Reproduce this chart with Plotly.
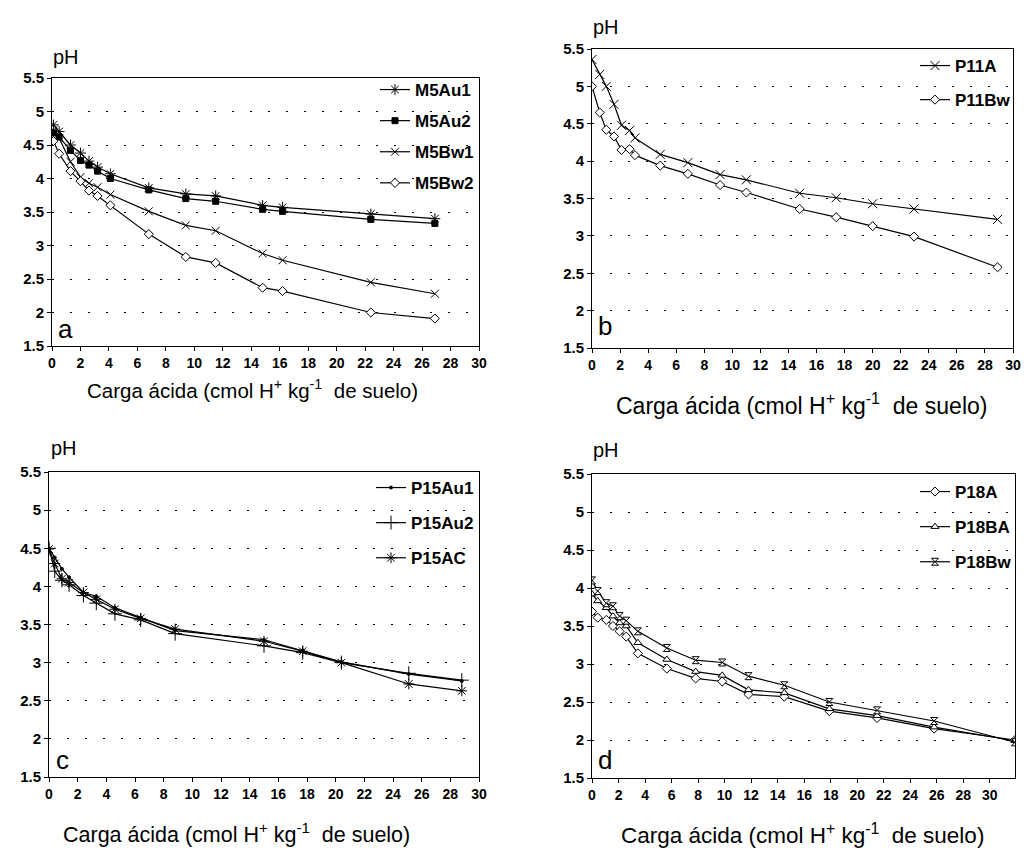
import plotly.graph_objects as go

# ---------------- data ----------------
# Panel a
xa = [0.1, 0.5, 1.3, 2.0, 2.6, 3.2, 4.1, 6.8, 9.4, 11.5, 14.8, 16.2, 22.4, 26.9]
M5Au1 = [4.80, 4.70, 4.50, 4.38, 4.26, 4.17, 4.07, 3.86, 3.77, 3.74, 3.60, 3.57, 3.47, 3.40]
M5Au2 = [4.68, 4.62, 4.42, 4.27, 4.20, 4.11, 4.00, 3.83, 3.70, 3.66, 3.54, 3.51, 3.39, 3.33]
M5Bw1 = [4.72, 4.60, 4.25, 4.02, 3.93, 3.87, 3.76, 3.51, 3.30, 3.22, 2.88, 2.78, 2.45, 2.28]
M5Bw2 = [4.56, 4.37, 4.11, 3.96, 3.82, 3.74, 3.60, 3.17, 2.83, 2.74, 2.37, 2.32, 2.00, 1.91]

# Panel b
xb = [0, 0.55, 1.02, 1.57, 2.1, 2.68, 3.06, 4.86, 6.83, 9.13, 11.0, 14.8, 17.4, 20.0, 22.95, 28.9]
P11A = [5.36, 5.16, 5.00, 4.76, 4.48, 4.41, 4.31, 4.09, 3.98, 3.82, 3.75, 3.57, 3.51, 3.43, 3.36, 3.22]
P11Bw = [5.00, 4.65, 4.42, 4.33, 4.15, 4.16, 4.08, 3.94, 3.83, 3.68, 3.58, 3.36, 3.25, 3.13, 2.99, 2.58]

# Panel c
xc = [0, 0.4, 0.9, 1.4, 2.4, 3.3, 4.6, 6.4, 8.8, 15.0, 17.7, 20.4, 25.1, 28.8]
P15Au1 = [4.50, 4.38, 4.23, 4.12, 3.92, 3.87, 3.72, 3.59, 3.42, 3.30, 3.16, 3.01, 2.85, 2.76]
P15Au2 = [4.50, 4.20, 4.08, 4.02, 3.88, 3.78, 3.64, 3.56, 3.38, 3.22, 3.13, 3.00, 2.86, 2.77]
P15AC = [4.49, 4.30, 4.10, 4.05, 3.92, 3.83, 3.70, 3.58, 3.44, 3.28, 3.15, 3.00, 2.72, 2.63]

# Panel d
xd = [0, 0.43, 1.08, 1.58, 2.08, 2.58, 3.46, 5.64, 7.82, 9.82, 11.8, 14.5, 17.9, 21.5, 25.8, 31.9]
P18A = [3.69, 3.61, 3.58, 3.50, 3.43, 3.36, 3.14, 2.94, 2.81, 2.77, 2.60, 2.57, 2.38, 2.29, 2.15, 2.00]
P18BA = [3.92, 3.83, 3.74, 3.63, 3.54, 3.50, 3.28, 3.06, 2.90, 2.85, 2.66, 2.62, 2.41, 2.32, 2.17, 1.99]
P18Bw = [4.10, 3.96, 3.80, 3.76, 3.63, 3.57, 3.43, 3.21, 3.05, 3.02, 2.84, 2.72, 2.50, 2.39, 2.25, 1.97]

y_ticks = [1.5, 2, 2.5, 3, 3.5, 4, 4.5, 5, 5.5]
x_ticks = list(range(0, 31, 2))
panel_letters = ["a", "b", "c", "d"]
x_title = "Carga ácida (cmol H<sup>+</sup> kg<sup>-1</sup>  de suelo)"

# ---------------- figure ----------------
W, H = 1025, 851
FONT = "Liberation Sans, Arial, sans-serif"

def px(x):
    return x / W

def py(y):
    return 1 - y / H

fig = go.Figure()

def add(x, y, name, ax, leg, symbol, size, fill="white"):
    fig.add_trace(go.Scatter(
        x=x, y=y, name=name, mode="lines+markers",
        xaxis="x" + ("" if ax == 1 else str(ax)),
        yaxis="y" + ("" if ax == 1 else str(ax)),
        legend="legend" + ("" if leg == 1 else str(leg)),
        legendgroup=name,
        line=dict(color="black", width=1.2),
        marker=dict(symbol=symbol, size=size, color=fill,
                    line=dict(color="black", width=1)),
    ))

add(xa, M5Au1, "M5Au1", 1, 1, "asterisk-open", 9, fill="black")
add(xa, M5Au2, "M5Au2", 1, 1, "square", 6, fill="black")
add(xa, M5Bw1, "M5Bw1", 1, 1, "x-thin-open", 8, fill="black")
add(xa, M5Bw2, "M5Bw2", 1, 1, "diamond", 7)

add(xb, P11A, "P11A", 2, 2, "x-thin-open", 9, fill="black")
add(xb, P11Bw, "P11Bw", 2, 2, "diamond", 7)

add(xc, P15Au1, "P15Au1", 3, 3, "circle", 3, fill="black")
add(xc, P15Au2, "P15Au2", 3, 3, "cross-thin-open", 10, fill="black")
add(xc, P15AC, "P15AC", 3, 3, "asterisk-open", 9, fill="black")

add(xd, P18A, "P18A", 4, 4, "diamond", 7)
add(xd, P18BA, "P18BA", 4, 4, "triangle-up", 7)
add(xd, P18Bw, "P18Bw", 4, 4, "hourglass", 7)

# plot-area rectangles in pixels: (left, right, top, bottom)
boxes = [
    (52, 479, 78, 346),
    (592, 1013, 49, 348),
    (49, 479, 472, 777),
    (592, 1015, 474, 778),
]
x_ranges = [[0, 30], [0, 30], [0, 30], [0, 31.9]]

xtickfont = dict(family=FONT, size=14, color="black", weight=700)
ytickfont = dict(family=FONT, size=15, color="black", weight=700)
layout = dict(
    width=W, height=H, autosize=False,
    margin=dict(l=0, r=0, t=0, b=0, autoexpand=False),
    paper_bgcolor="white", plot_bgcolor="white",
    font=dict(family=FONT, color="black"),
    showlegend=True,
)

for i, (l, r, t, b) in enumerate(boxes):
    sfx = "" if i == 0 else str(i + 1)
    layout["xaxis" + sfx] = dict(
        domain=[px(l), px(r)], anchor="y" + sfx, range=x_ranges[i],
        tickvals=x_ticks, ticks="outside", ticklen=4, tickcolor="black",
        showline=True, linecolor="black", linewidth=1, mirror=True,
        showgrid=False, zeroline=False, tickfont=xtickfont, automargin=False,
    )
    layout["yaxis" + sfx] = dict(
        domain=[py(b), py(t)], anchor="x" + sfx, range=[1.5, 5.5],
        tickvals=y_ticks, ticks="outside", ticklen=4, tickcolor="black",
        showline=True, linecolor="black", linewidth=1, mirror=True,
        showgrid=True, gridcolor="black", gridwidth=1, griddash="2px,16px",
        zeroline=False, tickfont=ytickfont, automargin=False,
    )

legend_cfg = [(375, 72, 6), (915, 48, 9), (371, 470, 10), (915, 474, 10)]
for i, (lx, ly, gap) in enumerate(legend_cfg):
    key = "legend" if i == 0 else "legend" + str(i + 1)
    layout[key] = dict(
        x=px(lx), y=py(ly), xanchor="left", yanchor="top",
        bgcolor="rgba(0,0,0,0)", borderwidth=0,
        font=dict(family=FONT, size=17, color="black", weight=700),
        tracegroupgap=gap, itemwidth=30,
    )

fig.update_layout(**layout)

def note(x, y, text, size):
    fig.add_annotation(x=px(x), y=py(y), xref="paper", yref="paper",
                       xanchor="center", yanchor="middle",
                       text=text, showarrow=False,
                       font=dict(family=FONT, size=size, color="black"))

# pH labels
for (x, y) in [(66, 57), (606, 27), (64, 448), (606, 450)]:
    note(x, y, "pH", 20)

# panel letters
for s, (x, y) in zip(panel_letters, [(65, 329), (605, 326), (62, 760), (605, 760)]):
    note(x, y, s, 26)

# x axis titles
for (x, y, fs) in [(252, 389, 20.5), (801, 404, 23), (236, 833, 21.5), (802, 834, 22.5)]:
    note(x, y, x_title, fs)

fig.write_html("out.html", config={"displayModeBar": False},
               post_script="document.body.style.margin='0';")
